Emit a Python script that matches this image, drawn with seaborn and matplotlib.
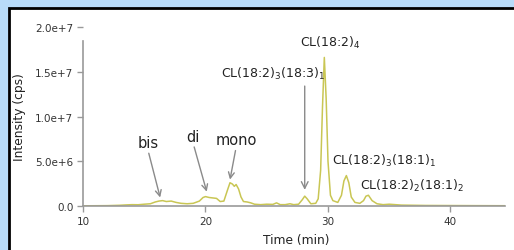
import matplotlib
matplotlib.use("Agg")
import matplotlib.pyplot as plt
import seaborn as sns
import pandas as pd
from matplotlib.patches import Rectangle

sns.set_theme(style="white")
plt.rcParams['font.family'] = ['DejaVu Sans']
plt.rcParams['mathtext.fontset'] = 'dejavusans'

# chromatogram trace
time_min = [10.0, 11.0, 12.0, 13.0, 13.5, 14.0, 14.5, 15.0, 15.5, 15.9, 16.2, 16.5,
            16.8, 17.2, 17.6, 18.0, 18.5, 19.0, 19.5, 19.8, 20.0, 20.3, 20.6, 20.9,
            21.2, 21.5, 21.8, 22.0, 22.2, 22.35, 22.5, 22.7, 22.9, 23.1, 23.4, 23.7,
            24.0, 24.5, 25.0, 25.5, 25.8, 26.1, 26.5, 26.9, 27.2, 27.6, 27.9, 28.1,
            28.3, 28.6, 29.0, 29.2, 29.4, 29.55, 29.7, 29.85, 30.0, 30.2, 30.4, 30.8,
            31.1, 31.3, 31.5, 31.7, 31.9, 32.2, 32.6, 32.9, 33.1, 33.3, 33.6, 34.0,
            34.5, 35.0, 35.5, 36.0, 37.0, 38.0, 40.0, 42.0, 44.5]
intensity = [0.02e6, 0.03e6, 0.04e6, 0.08e6, 0.12e6, 0.15e6, 0.14e6, 0.2e6, 0.25e6, 0.45e6, 0.55e6, 0.6e6,
             0.5e6, 0.55e6, 0.4e6, 0.3e6, 0.25e6, 0.3e6, 0.55e6, 0.95e6, 1.05e6, 0.95e6, 0.9e6, 0.85e6,
             0.5e6, 0.55e6, 1.8e6, 2.6e6, 2.45e6, 2.2e6, 2.4e6, 1.9e6, 1.0e6, 0.5e6, 0.45e6, 0.35e6,
             0.2e6, 0.15e6, 0.2e6, 0.18e6, 0.35e6, 0.15e6, 0.15e6, 0.25e6, 0.15e6, 0.2e6, 0.7e6, 1.1e6,
             0.8e6, 0.25e6, 0.3e6, 0.8e6, 4.0e6, 11.0e6, 16.6e6, 12.0e6, 5.0e6, 1.2e6, 0.6e6, 0.4e6,
             1.2e6, 2.8e6, 3.4e6, 2.6e6, 1.0e6, 0.4e6, 0.3e6, 0.6e6, 1.1e6, 1.2e6, 0.6e6, 0.25e6,
             0.15e6, 0.2e6, 0.15e6, 0.1e6, 0.08e6, 0.06e6, 0.05e6, 0.04e6, 0.03e6]

y_ticks = [0, 5e6, 1e7, 1.5e7, 2e7]
y_tick_labels = ["0.0", "5.0e+6", "1.0e+7", "1.5e+7", "2.0e+7"]
x_ticks = [10, 20, 30, 40]

df = pd.DataFrame({"time": time_min, "intensity": intensity})

W, H = 514, 251
fig = plt.figure(figsize=(W / 100, H / 100), dpi=100)
fig.patch.set_facecolor("#b8dbf9")
panel = Rectangle((9 / W, -0.05), 1.0, 1 - 9 / H + 0.05, transform=fig.transFigure,
                  facecolor="white", edgecolor="black", linewidth=2, zorder=-10)
fig.patches.append(panel)

ax = fig.add_axes([83 / W, 1 - 207 / H, (505 - 83) / W, (207 - 28) / H])
ax.set_zorder(5)
ax.set_facecolor("none")
sns.lineplot(data=df, x="time", y="intensity", ax=ax, color="#c9c654", linewidth=1.1)

ax.set_xlim(10, 44.45)
ax.set_ylim(0, 2e7)
ax.set_xticks(x_ticks)
ax.set_xticklabels([str(t) for t in x_ticks], fontsize=7.5, color="#333333")
ax.set_yticks(y_ticks)
ax.set_yticklabels(y_tick_labels, fontsize=7.5, color="#333333")
ax.tick_params(axis="both", direction="out", length=4, width=1, color="#999999", pad=3,
               bottom=True, left=True)
for s in ["top", "right"]:
    ax.spines[s].set_visible(False)
for s in ["left", "bottom"]:
    ax.spines[s].set_color("#999999")
    ax.spines[s].set_linewidth(1.2)
ax.spines["left"].set_bounds(0, 1.84e7)
ax.set_xlabel("Time (min)", fontsize=8.8, color="#222222")
ax.set_ylabel("Intensity (cps)", fontsize=8.8, color="#222222")
ax.xaxis.set_label_coords(0.505, -0.15)
ax.yaxis.set_label_coords(-0.135, 0.5)

arrow = dict(arrowstyle="->", color="#8a8a8a", lw=1.0, shrinkA=0, shrinkB=0)
ax.annotate("bis", xy=(16.3, 0.95e6), xytext=(15.3, 7.1e6), fontsize=10.5, ha="center",
            va="center", color="#222222", arrowprops=dict(arrow, relpos=(0.5, 0.0)))
ax.annotate("di", xy=(20.1, 1.6e6), xytext=(19.0, 7.8e6), fontsize=10.5, ha="center",
            va="center", color="#222222", arrowprops=dict(arrow, relpos=(0.5, 0.0)))
ax.annotate("mono", xy=(22.0, 2.95e6), xytext=(22.5, 7.4e6), fontsize=10.5, ha="center",
            va="center", color="#222222", arrowprops=dict(arrow, relpos=(0.5, 0.0)))
ax.annotate("", xy=(28.1, 1.8e6), xytext=(28.1, 1.34e7), arrowprops=arrow)
ax.text(25.5, 1.49e7, "CL(18:2)$_3$(18:3)$_1$", fontsize=9, ha="center", va="center",
        color="#222222")
ax.text(30.2, 1.83e7, "CL(18:2)$_4$", fontsize=9, ha="center", va="center", color="#222222")
ax.text(30.3, 5.1e6, "CL(18:2)$_3$(18:1)$_1$", fontsize=9, ha="left", va="center",
        color="#222222")
ax.text(32.6, 2.3e6, "CL(18:2)$_2$(18:1)$_2$", fontsize=9, ha="left", va="center",
        color="#222222")

fig.savefig("out.png", dpi=100, facecolor=fig.get_facecolor())
